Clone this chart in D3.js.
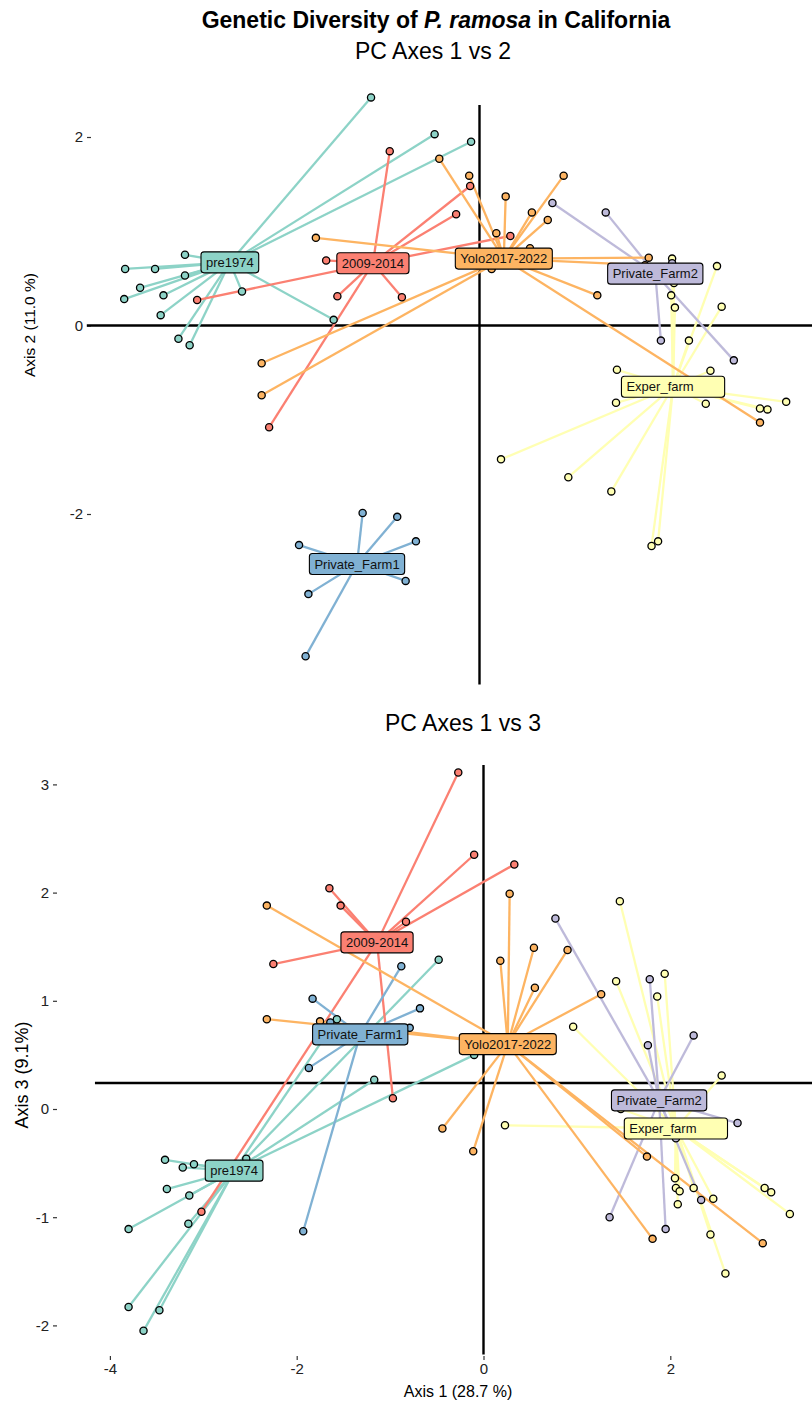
<!DOCTYPE html>
<html>
<head>
<meta charset="utf-8">
<script src="https://cdn.jsdelivr.net/npm/d3@7"></script>
<style>
  html, body { margin: 0; padding: 0; background: #fff; }
  svg { display: block; font-family: "Liberation Sans", Arial, sans-serif; }
</style>
</head>
<body>
<svg id="chart" width="812" height="1402"></svg>
<script>
// ---- data ----
const groupNames  = ["pre1974", "Exper_farm", "Private_Farm2", "2009-2014", "Private_Farm1", "Yolo2017-2022"];
const groupColors = ["#8DD3C7", "#FFFFB3", "#BEBADA", "#FB8072", "#80B1D3", "#FDB462"];

const xTicks = [-4, -2, 0, 2];
const y2Ticks = [-2, 0, 2];
const y3Ticks = [-2, -1, 0, 1, 2, 3];

// PC1 vs PC2 : [group, axis1, axis2]
const pts12 = [
  ["pre1974",-1.16,2.42],["pre1974",-0.48,2.03],["pre1974",-0.09,1.95],["pre1974",-3.15,0.75],
  ["pre1974",-3.79,0.60],["pre1974",-3.47,0.60],["pre1974",-3.15,0.53],["pre1974",-3.63,0.40],
  ["pre1974",-3.38,0.32],["pre1974",-3.80,0.28],["pre1974",-2.54,0.36],["pre1974",-3.41,0.11],
  ["pre1974",-1.56,0.06],["pre1974",-3.22,-0.14],["pre1974",-3.10,-0.21],
  ["2009-2014",-0.96,1.85],["2009-2014",-0.10,1.48],["2009-2014",-0.25,1.18],["2009-2014",-1.64,0.69],
  ["2009-2014",-3.02,0.27],["2009-2014",-1.52,0.31],["2009-2014",-0.83,0.30],["2009-2014",0.33,0.95],
  ["2009-2014",-2.25,-1.08],
  ["Yolo2017-2022",-0.43,1.77],["Yolo2017-2022",-0.11,1.59],["Yolo2017-2022",0.28,1.37],["Yolo2017-2022",0.56,1.20],
  ["Yolo2017-2022",0.73,1.12],["Yolo2017-2022",0.90,1.59],["Yolo2017-2022",0.18,0.98],["Yolo2017-2022",0.13,0.60],
  ["Yolo2017-2022",-1.75,0.93],["Yolo2017-2022",1.81,0.72],["Yolo2017-2022",1.77,0.64],["Yolo2017-2022",1.26,0.32],
  ["Yolo2017-2022",3.00,-1.03],["Yolo2017-2022",-2.33,-0.40],["Yolo2017-2022",-2.33,-0.74],["Yolo2017-2022",0.54,0.82],
  ["Private_Farm1",-1.25,-1.99],["Private_Farm1",-0.88,-2.03],["Private_Farm1",-0.68,-2.29],["Private_Farm1",-1.93,-2.33],
  ["Private_Farm1",-0.79,-2.71],["Private_Farm1",-1.83,-2.85],["Private_Farm1",-1.86,-3.51],
  ["Private_Farm2",0.78,1.30],["Private_Farm2",1.35,1.20],["Private_Farm2",1.94,-0.16],["Private_Farm2",2.72,-0.37],
  ["Private_Farm2",1.78,0.62],["Private_Farm2",1.76,0.58],["Private_Farm2",2.25,0.52],["Private_Farm2",2.06,0.66],
  ["Private_Farm2",2.33,0.60],
  ["Exper_farm",2.54,0.63],["Exper_farm",2.05,0.32],["Exper_farm",2.09,0.19],["Exper_farm",2.59,0.20],
  ["Exper_farm",2.24,-0.16],["Exper_farm",1.47,-0.47],["Exper_farm",2.47,-0.48],["Exper_farm",1.46,-0.82],
  ["Exper_farm",2.42,-0.83],["Exper_farm",3.00,-0.88],["Exper_farm",3.08,-0.89],["Exper_farm",3.28,-0.81],
  ["Exper_farm",0.23,-1.42],["Exper_farm",0.95,-1.61],["Exper_farm",1.41,-1.76],["Exper_farm",1.84,-2.34],
  ["Exper_farm",1.91,-2.29],["Exper_farm",2.06,0.71],["Exper_farm",2.08,0.45]
];
const cen12 = [
  ["pre1974",-2.67,0.67],["Exper_farm",2.07,-0.65],["Private_Farm2",1.88,0.55],
  ["2009-2014",-1.14,0.66],["Private_Farm1",-1.31,-2.53],["Yolo2017-2022",0.26,0.71]
];

// PC1 vs PC3 : [group, axis1, axis3]
const pts13 = [
  ["pre1974",-0.48,1.38],["pre1974",-1.57,0.83],["pre1974",-0.10,0.50],["pre1974",-1.17,0.27],
  ["pre1974",-3.41,-0.47],["pre1974",-3.10,-0.51],["pre1974",-3.22,-0.54],["pre1974",-2.54,-0.46],
  ["pre1974",-3.39,-0.74],["pre1974",-3.15,-0.80],["pre1974",-3.80,-1.11],["pre1974",-3.16,-1.06],
  ["pre1974",-3.80,-1.83],["pre1974",-3.47,-1.86],["pre1974",-3.64,-2.05],
  ["2009-2014",-0.27,3.11],["2009-2014",-1.65,2.04],["2009-2014",-1.53,1.88],["2009-2014",-0.83,1.73],
  ["2009-2014",-2.25,1.34],["2009-2014",-0.10,2.35],["2009-2014",0.33,2.26],["2009-2014",-0.97,0.10],
  ["2009-2014",-3.02,-0.95],
  ["Yolo2017-2022",-2.32,1.88],["Yolo2017-2022",-2.32,0.83],["Yolo2017-2022",-1.75,0.81],["Yolo2017-2022",0.28,1.99],
  ["Yolo2017-2022",0.18,1.37],["Yolo2017-2022",0.54,1.49],["Yolo2017-2022",0.90,1.47],["Yolo2017-2022",0.55,1.12],
  ["Yolo2017-2022",1.26,1.06],["Yolo2017-2022",-0.44,-0.18],["Yolo2017-2022",-0.11,-0.39],["Yolo2017-2022",1.75,-0.44],
  ["Yolo2017-2022",1.81,-1.20],["Yolo2017-2022",2.99,-1.24],["Yolo2017-2022",0.73,0.62],["Yolo2017-2022",0.13,0.58],
  ["Private_Farm1",-0.88,1.32],["Private_Farm1",-1.83,1.02],["Private_Farm1",-0.68,0.93],["Private_Farm1",-1.64,0.80],
  ["Private_Farm1",-0.79,0.75],["Private_Farm1",-1.87,0.38],["Private_Farm1",-1.93,-1.13],
  ["Private_Farm2",0.77,1.76],["Private_Farm2",1.78,1.20],["Private_Farm2",1.76,0.59],["Private_Farm2",2.25,0.68],
  ["Private_Farm2",2.72,-0.13],["Private_Farm2",2.06,-0.27],["Private_Farm2",2.33,-0.84],["Private_Farm2",1.35,-1.00],
  ["Private_Farm2",1.95,-1.11],
  ["Exper_farm",1.46,1.92],["Exper_farm",1.42,1.18],["Exper_farm",1.94,1.25],["Exper_farm",1.86,1.04],
  ["Exper_farm",0.96,0.76],["Exper_farm",2.55,0.31],["Exper_farm",0.23,-0.15],["Exper_farm",2.05,-0.64],
  ["Exper_farm",2.06,-0.73],["Exper_farm",2.10,-0.76],["Exper_farm",2.25,-0.73],["Exper_farm",2.08,-0.88],
  ["Exper_farm",2.46,-0.83],["Exper_farm",3.01,-0.73],["Exper_farm",3.08,-0.77],["Exper_farm",3.28,-0.97],
  ["Exper_farm",2.43,-1.16],["Exper_farm",2.59,-1.52],["Exper_farm",1.47,0.00]
];
const cen13 = [
  ["pre1974",-2.67,-0.57],["Exper_farm",2.06,-0.18],["Private_Farm2",1.88,0.08],
  ["2009-2014",-1.14,1.54],["Private_Farm1",-1.32,0.69],["Yolo2017-2022",0.26,0.60]
];

// reference lines (extent in data units)
const hline12 = {y: 0, x0: -4.20, x1: 3.56};
const vline12 = {x: 0, y0: -3.81, y1: 2.34};
const hline13 = {y: 0.24, x0: -4.16, x1: 3.52};
const vline13 = {x: 0, y0: -2.27, y1: 3.18};

// ---- drawing ----
const svg = d3.select("#chart");
const color = d3.scaleOrdinal().domain(groupNames).range(groupColors);

svg.append("text").attr("x", 436).attr("y", 28).attr("text-anchor", "middle")
  .attr("font-size", 23).attr("font-weight", "bold").attr("fill", "#000")
  .call(t => {
    t.append("tspan").text("Genetic Diversity of ");
    t.append("tspan").attr("font-style", "italic").text("P. ramosa");
    t.append("tspan").text(" in California");
  });

function panel(opts) {
  const {pts, cen, x, y, hline, vline, subtitle, subX, subY, yTicks, yAxisX, yLabel, yLabelX, yLabelY, yLabelSize, showX} = opts;
  const g = svg.append("g");

  g.append("text").attr("x", subX).attr("y", subY).attr("text-anchor", "middle")
    .attr("font-size", 23).attr("fill", "#000").text(subtitle);

  const ya = d3.axisLeft(y).tickValues(yTicks).tickSize(4).tickPadding(4).tickFormat(d => `${d}`);
  const yg = g.append("g").attr("transform", `translate(${yAxisX},0)`).call(ya);
  yg.select(".domain").remove();
  yg.selectAll(".tick line").attr("stroke", "#333").attr("stroke-width", 1.2);
  yg.selectAll(".tick text").attr("font-size", 15).attr("fill", "#222")
    .attr("font-family", "Liberation Sans, Arial, sans-serif");

  g.append("text").attr("transform", `translate(${yLabelX},${yLabelY}) rotate(-90)`)
    .attr("text-anchor", "middle").attr("font-size", yLabelSize).attr("fill", "#000").text(yLabel);

  if (showX) {
    const xa = d3.axisBottom(x).tickValues(xTicks).tickSize(4).tickPadding(3).tickFormat(d => `${d}`);
    const xg = g.append("g").attr("transform", `translate(0,${showX.y})`).call(xa);
    xg.select(".domain").remove();
    xg.selectAll(".tick line").attr("stroke", "#333").attr("stroke-width", 1.2);
    xg.selectAll(".tick text").attr("font-size", 15).attr("fill", "#222")
      .attr("font-family", "Liberation Sans, Arial, sans-serif");
    g.append("text").attr("x", 458).attr("y", showX.labelY).attr("text-anchor", "middle")
      .attr("font-size", 16).attr("fill", "#000").text("Axis 1 (28.7 %)");
  }

  g.append("line").attr("x1", x(hline.x0)).attr("x2", x(hline.x1))
    .attr("y1", y(hline.y)).attr("y2", y(hline.y)).attr("stroke", "#000").attr("stroke-width", 2.4);
  g.append("line").attr("x1", x(vline.x)).attr("x2", x(vline.x))
    .attr("y1", y(vline.y0)).attr("y2", y(vline.y1)).attr("stroke", "#000").attr("stroke-width", 2.4);

  const cmap = new Map(cen.map(d => [d[0], d]));
  const ordered = groupNames.flatMap(gn => pts.filter(p => p[0] === gn));

  g.append("g").selectAll("line").data(ordered).join("line")
    .attr("x1", d => x(cmap.get(d[0])[1])).attr("y1", d => y(cmap.get(d[0])[2]))
    .attr("x2", d => x(d[1])).attr("y2", d => y(d[2]))
    .attr("stroke", d => color(d[0])).attr("stroke-width", 2.3);

  g.append("g").selectAll("circle").data(ordered).join("circle")
    .attr("cx", d => x(d[1])).attr("cy", d => y(d[2])).attr("r", 3.6)
    .attr("fill", d => color(d[0])).attr("stroke", "#000").attr("stroke-width", 1.3);

  const lg = g.append("g").selectAll("g").data(groupNames.map(gn => cmap.get(gn))).join("g")
    .attr("transform", d => `translate(${x(d[1])},${y(d[2])})`);
  lg.each(function(d) {
    const el = d3.select(this);
    const t = el.append("text").attr("font-size", 13).attr("fill", "#111")
      .attr("dy", "0.36em").text(d[0]);
    const tw = t.node().getComputedTextLength();
    const extra = d[0] === "Exper_farm" ? 26 : 0;
    const w = tw + 10 + extra, h = 21;
    el.insert("rect", "text").attr("x", -w / 2).attr("y", -h / 2).attr("width", w).attr("height", h)
      .attr("rx", 3).attr("fill", color(d[0])).attr("stroke", "#000").attr("stroke-width", 1.1);
    t.attr("x", -w / 2 + 5);
  });
}

const x12 = d3.scaleLinear().domain([-4, 3.5]).range([105.5, 806.75]);
const y12 = d3.scaleLinear().domain([2, -2]).range([137, 514]);
const x13 = d3.scaleLinear().domain([-4, 3.5]).range([109.9, 810.4]);
const y13 = d3.scaleLinear().domain([3, -2]).range([784.4, 1325.4]);

panel({pts: pts12, cen: cen12, x: x12, y: y12, hline: hline12, vline: vline12,
  subtitle: "PC Axes 1 vs 2", subX: 433, subY: 59, yTicks: y2Ticks, yAxisX: 91,
  yLabel: "Axis 2 (11.0 %)", yLabelX: 35, yLabelY: 325, yLabelSize: 15.5, showX: null});

panel({pts: pts13, cen: cen13, x: x13, y: y13, hline: hline13, vline: vline13,
  subtitle: "PC Axes 1 vs 3", subX: 463, subY: 731, yTicks: y3Ticks, yAxisX: 57,
  yLabel: "Axis 3 (9.1%)", yLabelX: 28, yLabelY: 1075, yLabelSize: 18, 
  showX: {y: 1356, labelY: 1397}});
</script>
</body>
</html>
